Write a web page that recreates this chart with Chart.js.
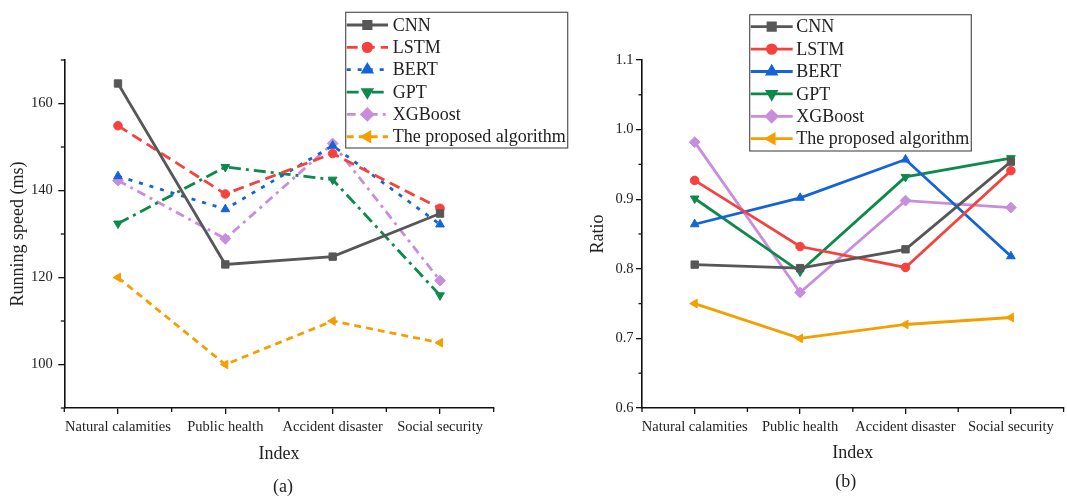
<!DOCTYPE html>
<html>
<head>
<meta charset="utf-8">
<script src="https://cdn.jsdelivr.net/npm/chart.js@4.4.1/dist/chart.umd.min.js"></script>
<style>
  html, body { margin: 0; padding: 0; background: #fff; overflow: hidden; }
  #wrap { position: relative; width: 1067px; height: 496px; overflow: hidden; }
  #speed { position: absolute; left: 0; top: 0; }
  #ratio { position: absolute; left: 535px; top: 0; }
</style>
</head>
<body>
<div id="wrap">
  <canvas id="speed" width="580" height="496"></canvas>
  <canvas id="ratio" width="535" height="496"></canvas>
</div>
<script>
// categories and series names
const indexLabels = ['Natural calamities', 'Public health', 'Accident disaster', 'Social security'];
const modelNames = ['CNN', 'LSTM', 'BERT', 'GPT', 'XGBoost', 'The proposed algorithm'];

// (a) running speed (ms)
const speedCNN  = [164.6, 123.0, 124.8, 134.7];
const speedLSTM = [154.9, 139.2, 148.5, 135.9];
const speedBERT = [143.3, 135.7, 150.3, 132.2];
const speedGPT  = [132.4, 145.4, 142.5, 115.9];
const speedXGB  = [142.3, 128.9, 150.8, 119.3];
const speedOurs = [120, 100, 110, 105];

// (b) ratio
const ratioCNN  = [0.806, 0.801, 0.828, 0.954];
const ratioLSTM = [0.927, 0.832, 0.802, 0.941];
const ratioBERT = [0.864, 0.902, 0.957, 0.818];
const ratioGPT  = [0.901, 0.796, 0.932, 0.959];
const ratioXGB  = [0.982, 0.766, 0.898, 0.888];
const ratioOurs = [0.75, 0.70, 0.72, 0.73];

// tick labels
const speedTicks = [100, 120, 140, 160];
const ratioTicks = [0.6, 0.7, 0.8, 0.9, 1.0, 1.1];

// look of each series
const colors = ['#575757', '#f6423f', '#1264d8', '#0d8a4b', '#c98ddd', '#f59e00'];
const markers = ['rect', 'circle', 'triangle', 'triangle', 'rectRot', 'triangle'];
const turns = [0, 0, 0, 180, 0, -90];
const sizes = [5.2, 4.3, 5, 5, 5.4, 5];
const dashes = [[], [11, 6], [4, 7], [12, 5, 3, 5], [9, 5, 3, 5], [7, 5]];

Chart.defaults.font.family = "'Liberation Serif', 'Times New Roman', serif";
Chart.defaults.color = '#222';

function makeSets(series, dashed) {
  return series.map((vals, i) => ({
    label: modelNames[i],
    data: vals,
    borderColor: colors[i],
    backgroundColor: colors[i],
    pointBackgroundColor: colors[i],
    pointBorderColor: colors[i],
    pointBorderWidth: 1,
    borderWidth: 2.8,
    borderDash: dashed ? dashes[i] : [],
    pointStyle: markers[i],
    pointRotation: turns[i],
    pointRadius: sizes[i],
    tension: 0
  }));
}

// boxed legend drawn over the plot
const boxLegend = {
  id: 'boxLegend',
  afterDraw(chart, args, o) {
    const ctx = chart.ctx;
    ctx.save();
    ctx.fillStyle = '#fff';
    ctx.fillRect(o.x, o.y, o.w, o.h);
    ctx.strokeStyle = '#555';
    ctx.lineWidth = 1.2;
    ctx.strokeRect(o.x, o.y, o.w, o.h);
    chart.data.datasets.forEach((ds, i) => {
      const yy = o.first + i * o.row;
      ctx.strokeStyle = ds.borderColor;
      ctx.lineWidth = ds.borderWidth;
      ctx.setLineDash(ds.borderDash);
      ctx.beginPath();
      ctx.moveTo(o.x + 1, yy);
      ctx.lineTo(o.x + 1 + o.len, yy);
      ctx.stroke();
      ctx.setLineDash([]);
      ctx.fillStyle = ds.borderColor;
      Chart.helpers.drawPoint(ctx, {
        pointStyle: ds.pointStyle, rotation: ds.pointRotation,
        radius: ds.pointRadius, borderWidth: 1
      }, o.x + 1 + o.len / 2, yy);
      ctx.fillStyle = '#222';
      ctx.font = "18px 'Liberation Serif'";
      ctx.textBaseline = 'middle';
      ctx.textAlign = 'left';
      ctx.fillText(ds.label, o.textX, yy + 1);
    });
    ctx.restore();
  }
};

// minor ticks and the (a)/(b) tag
const extras = {
  id: 'extras',
  afterDraw(chart, args, o) {
    const ctx = chart.ctx;
    const xs = chart.scales.x, ys = chart.scales.y;
    ctx.save();
    ctx.strokeStyle = '#111';
    ctx.lineWidth = 1.3;
    const t = ys.ticks.map(k => k.value);
    const step = t[1] - t[0];
    for (let v = t[0] - step / 2; v <= ys.max + 1e-9; v += step) {
      if (v < ys.min - 1e-9) continue;
      const py = ys.getPixelForValue(v);
      ctx.beginPath(); ctx.moveTo(ys.right - 3.5, py); ctx.lineTo(ys.right, py); ctx.stroke();
    }
    for (let i = 0; i <= indexLabels.length; i++) {
      const px = xs.getPixelForValue(i - 0.5);
      ctx.beginPath(); ctx.moveTo(px, xs.top); ctx.lineTo(px, xs.top + 4); ctx.stroke();
    }
    const ca = chart.chartArea;
    ctx.fillStyle = '#222';
    ctx.font = "18px 'Liberation Serif'";
    ctx.textAlign = 'center';
    ctx.textBaseline = 'middle';
    ctx.fillText(o.tag, (ca.left + ca.right) / 2 + o.dx, o.tagY);
    ctx.restore();
  }
};

function makeChart(id, sets, yMin, yMax, tickList, fmt, lay) {
  return new Chart(document.getElementById(id), {
    type: 'line',
    data: { labels: indexLabels, datasets: sets },
    plugins: [extras, boxLegend],
    options: {
      responsive: false,
      animation: false,
      layout: { padding: lay.padding },
      plugins: {
        legend: { display: false },
        tooltip: { enabled: false },
        boxLegend: lay.legend,
        extras: lay.tag
      },
      scales: {
        x: {
          offset: true,
          grid: { drawOnChartArea: false, offset: false, color: '#111', lineWidth: 1.3, tickLength: 6 },
          border: { color: '#111', width: 1.6 },
          ticks: { font: { size: 14.5 }, padding: 4, maxRotation: 0, autoSkip: false },
          title: { display: true, text: 'Index', font: { size: 18 }, padding: { top: 0, bottom: 0 } },
          afterFit: s => { s.height = lay.xHeight; }
        },
        y: {
          min: yMin,
          max: yMax,
          grid: { drawOnChartArea: false, color: '#111', lineWidth: 1.3, tickLength: 6 },
          border: { color: '#111', width: 1.6 },
          ticks: { font: { size: 14.5 }, padding: lay.yPad, callback: fmt },
          afterBuildTicks: s => { s.ticks = tickList.map(v => ({ value: v })); },
          title: { display: true, text: lay.yTitle, font: { size: 18 }, padding: { top: lay.yTitlePad, bottom: 0 } },
          afterFit: s => { s.width = lay.yWidth; }
        }
      }
    }
  });
}

makeChart('speed',
  makeSets([speedCNN, speedLSTM, speedBERT, speedGPT, speedXGB, speedOurs], true),
  90, 170, speedTicks, v => String(v),
  {
    padding: { left: 0, top: 60, right: 86.3, bottom: 31.2 },
    xHeight: 56.8, yWidth: 64.3, yPad: 5.5, yTitle: 'Running speed (ms)', yTitlePad: 7.5,
    legend: { x: 345.7, y: 12.3, w: 222, h: 135.7, first: 25, row: 22.35, len: 41.3, textX: 392.7 },
    tag: { tag: '(a)', dx: 4, tagY: 487 }
  });

makeChart('ratio',
  makeSets([ratioCNN, ratioLSTM, ratioBERT, ratioGPT, ratioXGB, ratioOurs], false),
  0.6, 1.1, ratioTicks, v => v.toFixed(1),
  {
    padding: { left: 0, top: 60, right: 0, bottom: 31.9 },
    xHeight: 56.1, yWidth: 107, yPad: 2.5, yTitle: 'Ratio', yTitlePad: 52.9,
    legend: { x: 214.7, y: 14.7, w: 221.6, h: 136.3, first: 26.7, row: 22.4, len: 42, textX: 261.3 },
    tag: { tag: '(b)', dx: -7, tagY: 482 }
  });
</script>
</body>
</html>
